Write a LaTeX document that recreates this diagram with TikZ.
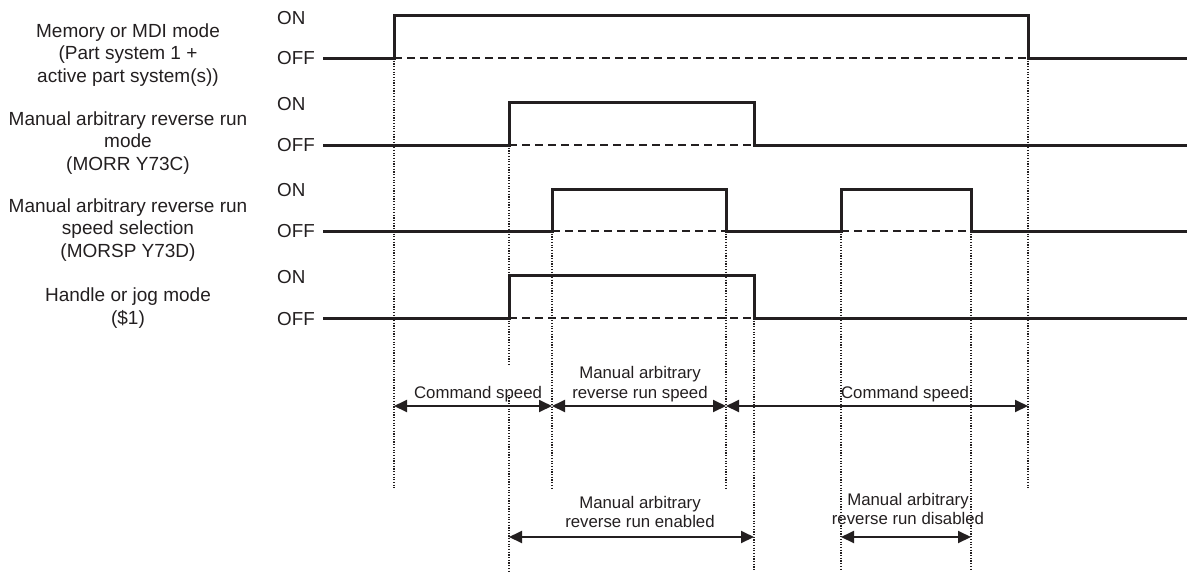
\documentclass[tikz,border=0pt]{standalone}
\usepackage{fontspec}
\setmainfont{Liberation Sans}
\usetikzlibrary{arrows.meta}
\definecolor{ink}{HTML}{231F20}
\begin{document}
\begin{tikzpicture}[x=1pt,y=-1pt,
 sig/.style={line width=3pt, draw=ink, line join=miter},
 refline/.style={line width=1.8pt, draw=ink, dash pattern=on 8pt off 5pt},
 guide/.style={line width=1.4pt, draw=ink, dash pattern=on 1.2pt off 1.5pt},
 span/.style={line width=1.9pt, draw=ink, {Triangle[length=13pt,width=12pt]}-{Triangle[length=13pt,width=12pt]}},
 lvl/.style={anchor=west, font=\fontsize{18.8}{22}\selectfont, text=ink, inner sep=0pt},
 sname/.style={align=center, font=\fontsize{19}{22.7}\selectfont, text=ink, inner sep=0pt},
 note/.style={align=center, font=\fontsize{16.8}{19.5}\selectfont, text=ink, inner sep=0pt},
]
\useasboundingbox (0,0) rectangle (1187,571);

% signal names
\node[sname] (n1) at (128,55) {Memory or MDI mode\\(Part system 1 +\\active part system(s))};
\node[sname] (n2) at (128,143) {Manual arbitrary reverse run\\mode\\(MORR Y73C)};
\node[sname] (n3) at (128,230) {Manual arbitrary reverse run\\speed selection\\(MORSP Y73D)};
\node[sname] (n4) at (128,308) {Handle or jog mode\\(\$1)};

% levels
\node[lvl] (on1) at (277,18) {ON};
\node[lvl] (off1) at (277,58) {OFF};
\node[lvl] (on2) at (277,104) {ON};
\node[lvl] (off2) at (277,145) {OFF};
\node[lvl] (on3) at (277,190) {ON};
\node[lvl] (off3) at (277,231) {OFF};
\node[lvl] (on4) at (277,277) {ON};
\node[lvl] (off4) at (277,319) {OFF};

% guides
\draw[guide] (394,58) -- (394,488);
\draw[guide] (509,145) -- (509,366);
\draw[guide] (509,395) -- (509,571);
\draw[guide] (552,231) -- (552,488);
\draw[guide] (726,231) -- (726,488);
\draw[guide] (754,318) -- (754,571);
\draw[guide] (841,231) -- (841,571);
\draw[guide] (971,231) -- (971,571);
\draw[guide] (1028,58) -- (1028,488);

% reference (OFF) lines
\draw[refline] (394,58) -- (1028,58);
\draw[refline] (509,145) -- (754,145);
\draw[refline] (552,231) -- (726,231);
\draw[refline] (841,231) -- (971,231);
\draw[refline] (509,318) -- (754,318);

% waveforms
\draw[sig] (323,58) -- (394,58) -- (394,15) -- (1028,15) -- (1028,58) -- (1187,58);
\draw[sig] (323,145) -- (509,145) -- (509,102) -- (754,102) -- (754,145) -- (1187,145);
\draw[sig] (323,231) -- (552,231) -- (552,189) -- (726,189) -- (726,231) -- (841,231) -- (841,189) -- (971,189) -- (971,231) -- (1187,231);
\draw[sig] (323,318) -- (509,318) -- (509,275) -- (754,275) -- (754,318) -- (1187,318);

% span end points
\coordinate (s1) at (394,406);
\coordinate (s2) at (552,406);
\coordinate (s3) at (726,406);
\coordinate (s4) at (1028,406);
\coordinate (e1) at (509,537);
\coordinate (e2) at (754,537);
\coordinate (d1) at (841,537);
\coordinate (d2) at (971,537);

\draw[span] (s1) -- (s2);
\draw[span] (s2) -- (s3);
\draw[span] (s3) -- (s4);
\draw[span] (e1) -- (e2);
\draw[span] (d1) -- (d2);

% span labels
\node[note] (c1) at (478,394) {Command speed};
\node[note] (mr) at (640,384) {Manual arbitrary\\reverse run speed};
\node[note] (c2) at (905,394) {Command speed};
\node[note] (en) at (640,512) {Manual arbitrary\\reverse run enabled};
\node[note] (dis) at (908,509) {Manual arbitrary\\reverse run disabled};
\end{tikzpicture}
\end{document}
